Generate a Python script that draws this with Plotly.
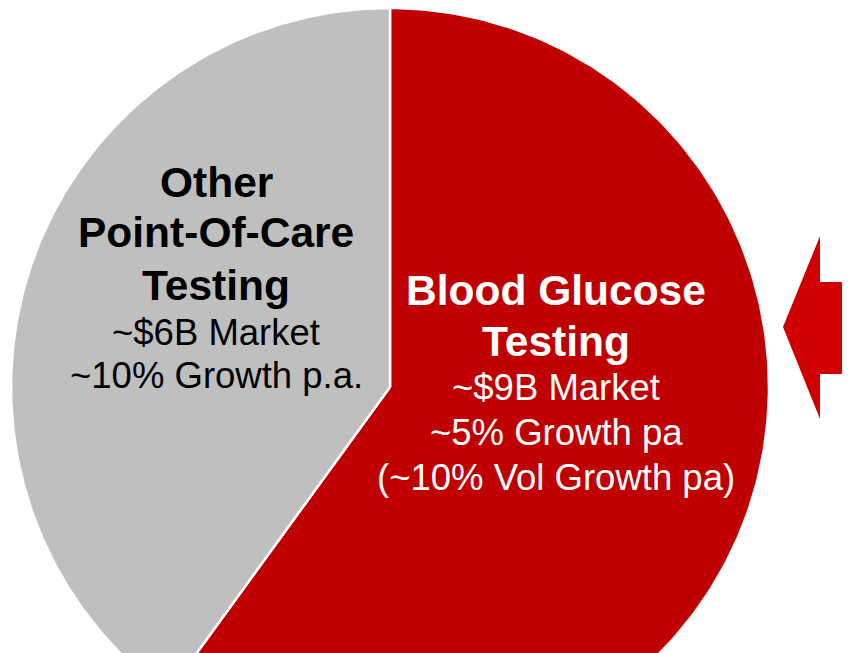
import numpy as np
import plotly.graph_objects as go

# ---- data ----
segments = ["Blood Glucose Testing", "Other Point-Of-Care Testing"]
market_bn = [9, 6]
colors = ["#C00000", "#BFBFBF"]
title_lines = [["Blood Glucose", "Testing"], ["Other", "Point-Of-Care", "Testing"]]
detail_lines = [["~$9B Market", "~5% Growth pa", "(~10% Vol Growth pa)"],
                ["~$6B Market", "~10% Growth p.a."]]
text_colors = ["white", "black"]

# page has an 8px body margin; work in page pixels and convert
OFF = 8
W, H = 850 - OFF, 653 - OFF
cx, cy, R = 390 - OFF, 387 - OFF, 379  # pixel geometry of the (cropped) pie

fig = go.Figure()
total = sum(market_bn)
start = 90.0
for i, v in enumerate(market_bn):
    sweep = 360.0 * v / total
    ang = np.radians(np.linspace(start, start - sweep, 240))
    xs = np.concatenate([[0], np.cos(ang), [0]])
    ys = np.concatenate([[0], np.sin(ang), [0]])
    fig.add_trace(go.Scatter(x=xs, y=ys, mode="lines", fill="toself",
                             fillcolor=colors[i], line=dict(color="white", width=2.5),
                             name=segments[i], hoverinfo="name", showlegend=False))
    start -= sweep

def px(x):
    return (x - OFF) / W
def py(y):
    return 1 - (y - OFF) / H

font = "Arial, Liberation Sans, sans-serif"
# label layout (page pixel centers)
label_pos = [
    (556, [290, 341], [387, 432, 477]),
    (216, [182, 233, 285], [332, 375]),
]
for i in range(len(segments)):
    xc, tys, dys = label_pos[i]
    for t, yy in zip(title_lines[i], tys):
        fig.add_annotation(x=px(xc), y=py(yy), xref="paper", yref="paper",
                           text="<b>%s</b>" % t, showarrow=False,
                           font=dict(family=font, size=42.5, color=text_colors[i]),
                           xanchor="center", yanchor="middle")
    for t, yy in zip(detail_lines[i], dys):
        fig.add_annotation(x=px(xc), y=py(yy), xref="paper", yref="paper",
                           text=t, showarrow=False,
                           font=dict(family=font, size=36.5, color=text_colors[i]),
                           xanchor="center", yanchor="middle")

# arrow pointing at the pie
arrow = [(783, 327), (820, 236), (820, 282), (852, 282), (852, 374), (820, 374), (820, 419)]
path = "M " + " L ".join("%.4f,%.4f" % (px(a), py(b)) for a, b in arrow) + " Z"
fig.add_shape(type="path", path=path, xref="paper", yref="paper",
              fillcolor="#D00000", line=dict(width=0), layer="above")

fig.update_xaxes(range=[-cx / R, (W - cx) / R], visible=False, fixedrange=True)
fig.update_yaxes(range=[-(H - cy) / R, cy / R], visible=False, fixedrange=True)
fig.update_layout(width=W, height=H, margin=dict(l=0, r=0, t=0, b=0),
                  paper_bgcolor="white", plot_bgcolor="white")
fig.write_html("out.html")
